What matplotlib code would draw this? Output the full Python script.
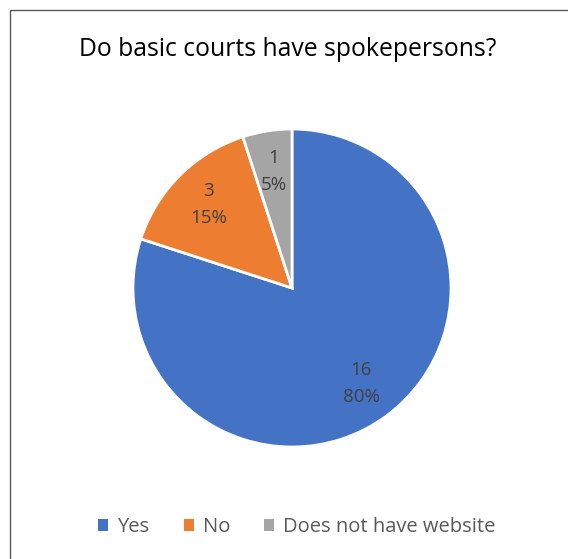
import matplotlib.pyplot as plt
import matplotlib as mpl
from matplotlib.patches import Rectangle

labels = ['Yes', 'No', 'Does not have website']
values = [16, 3, 1]
colors = ['#4472C4', '#ED7D31', '#A5A5A5']
title = 'Do basic courts have spokepersons?'

mpl.rc('font', family=['Open Sans', 'DejaVu Sans'])
W, H = 568, 559
fig = plt.figure(figsize=(W / 100, H / 100), dpi=100)

# chart-area border (only top and left visible in the reference)
fig.patches.append(Rectangle((10 / W, -0.1), 1.2, 1 - 10 / H + 0.1, transform=fig.transFigure,
                             fill=False, edgecolor='#595959', linewidth=1.0))

ax = fig.add_axes([133 / W, 112 / H, 318 / W, 318 / H])
total = sum(values)


def fmt(pct):
    n = int(round(pct * total / 100))
    return f'{n}\n{pct:.0f}%'


wedges, texts, autotexts = ax.pie(values, colors=colors, startangle=90, counterclock=False,
                                  autopct=fmt, pctdistance=0.74,
                                  wedgeprops=dict(edgecolor='white', linewidth=2),
                                  textprops=dict(color='#404040', fontsize=13.5, linespacing=1.65))
for t in autotexts:
    t.set_horizontalalignment('center')
ax.set_xlim(-1, 1)
ax.set_ylim(-1, 1)
ax.set_aspect('equal')

fig.text(288 / W, 1 - 50 / H, title, ha='center', va='center', fontsize=17.8, color='black')

handles = [Rectangle((0, 0), 1, 1, facecolor=c, edgecolor='none') for c in colors]
fig.legend(handles, labels, loc='center', bbox_to_anchor=(297 / W, 1 - 527 / H), ncol=3,
           frameon=False, handlelength=0.5, handleheight=0.5, handletextpad=0.45,
           columnspacing=1.7, labelcolor='#595959', fontsize=14.5)

fig.savefig('out.png', dpi=100)
